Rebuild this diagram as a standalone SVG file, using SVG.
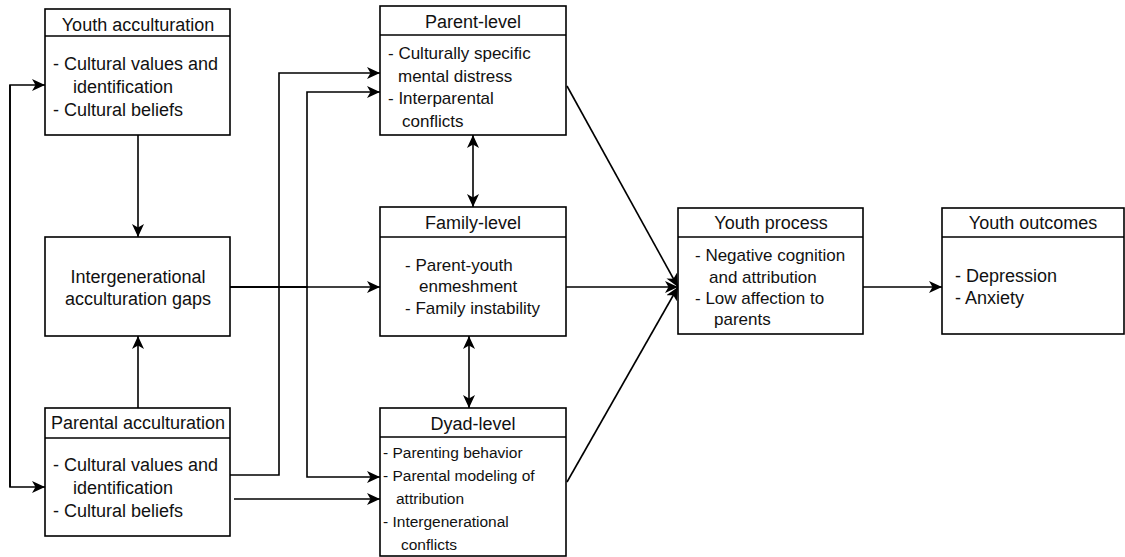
<svg xmlns="http://www.w3.org/2000/svg" width="1125" height="557" viewBox="0 0 1125 557">
<defs>
<marker id="ah" viewBox="0 0 13 12" refX="13" refY="6" markerWidth="13" markerHeight="12" markerUnits="userSpaceOnUse" orient="auto-start-reverse">
<path d="M0,0 L13,6 L0,12 L3.5,6 z" fill="#000"/>
</marker>
</defs>
<style>
.box{fill:#fff;stroke:#000;stroke-width:1.6}
.sep{stroke:#000;stroke-width:1.6}
.t{font-family:"Liberation Sans",Arial,sans-serif;fill:#111}
.h{font-size:18px;text-anchor:middle}
.b18{font-size:18px}
.b17{font-size:17px}
.b15{font-size:15.5px}
.c{text-anchor:middle}
.e{fill:none;stroke:#000;stroke-width:1.6}
</style>
<rect width="1125" height="557" fill="#fff"/>
<g id="connectors">
<path class="e" d="M10,487 L10,85 L45,85" marker-end="url(#ah)"/>
<path class="e" d="M10,85 L10,487 L45,487" marker-end="url(#ah)"/>
<path class="e" d="M138,135 L138,237" marker-end="url(#ah)"/>
<path class="e" d="M138,408 L138,336" marker-end="url(#ah)"/>
<path class="e" d="M230,287 L380,287" marker-end="url(#ah)"/>
<path class="e" d="M230,287 L307,287 L307,92 L380,92" marker-end="url(#ah)"/>
<path class="e" d="M230,287 L307,287 L307,477 L380,477" marker-end="url(#ah)"/>
<path class="e" d="M230,475 L279,475 L279,73 L380,73" marker-end="url(#ah)"/>
<path class="e" d="M234,499 L380,499" marker-end="url(#ah)"/>
<path class="e" d="M473,135 L473,207" marker-start="url(#ah)" marker-end="url(#ah)"/>
<path class="e" d="M469,336 L469,408" marker-start="url(#ah)" marker-end="url(#ah)"/>
<path class="e" d="M566,287 L678,287" marker-end="url(#ah)"/>
<path class="e" d="M567,86 L678,287" marker-end="url(#ah)"/>
<path class="e" d="M567,482 L678,287" marker-end="url(#ah)"/>
<path class="e" d="M863,287 L942,287" marker-end="url(#ah)"/>
</g>
<g id="youth-acculturation">
<rect class="box" x="45" y="9" width="185" height="126"/>
<line class="sep" x1="45" y1="36" x2="230" y2="36"/>
<text class="t h" x="138" y="31">Youth acculturation</text>
<text class="t b18" x="53" y="70">- Cultural values and</text>
<text class="t b18" x="73" y="93">identification</text>
<text class="t b18" x="53" y="116">- Cultural beliefs</text>
</g>
<g id="gaps">
<rect class="box" x="45" y="237" width="185" height="99"/>
<text class="t b18 c" x="138" y="283">Intergenerational</text>
<text class="t b18 c" x="138" y="305">acculturation gaps</text>
</g>
<g id="parental-acculturation">
<rect class="box" x="45" y="408" width="185" height="128"/>
<line class="sep" x1="45" y1="438" x2="230" y2="438"/>
<text class="t h" x="138" y="429">Parental acculturation</text>
<text class="t b18" x="53" y="471">- Cultural values and</text>
<text class="t b18" x="73" y="494">identification</text>
<text class="t b18" x="53" y="517">- Cultural beliefs</text>
</g>
<g id="parent-level">
<rect class="box" x="380" y="6" width="186" height="129"/>
<line class="sep" x1="380" y1="35" x2="566" y2="35"/>
<text class="t h" x="473" y="28">Parent-level</text>
<text class="t b17" x="388" y="59">- Culturally specific</text>
<text class="t b17" x="398" y="82">mental distress</text>
<text class="t b17" x="388" y="104">- Interparental</text>
<text class="t b17" x="402" y="127">conflicts</text>
</g>
<g id="family-level">
<rect class="box" x="380" y="207" width="186" height="129"/>
<line class="sep" x1="380" y1="237" x2="566" y2="237"/>
<text class="t h" x="473" y="229">Family-level</text>
<text class="t b17" x="405" y="271">- Parent-youth</text>
<text class="t b17" x="419" y="292">enmeshment</text>
<text class="t b17" x="405" y="314">- Family instability</text>
</g>
<g id="dyad-level">
<rect class="box" x="380" y="408" width="186" height="148"/>
<line class="sep" x1="380" y1="437" x2="566" y2="437"/>
<text class="t h" x="473" y="430">Dyad-level</text>
<text class="t b15" x="383" y="458">- Parenting behavior</text>
<text class="t b15" x="383" y="481">- Parental modeling of</text>
<text class="t b15" x="396" y="504">attribution</text>
<text class="t b15" x="383" y="527">- Intergenerational</text>
<text class="t b15" x="401" y="550">conflicts</text>
</g>
<g id="youth-process">
<rect class="box" x="678" y="208" width="185" height="126"/>
<line class="sep" x1="678" y1="237" x2="863" y2="237"/>
<text class="t h" x="771" y="229">Youth process</text>
<text class="t b17" x="695" y="261">- Negative cognition</text>
<text class="t b17" x="709" y="283">and attribution</text>
<text class="t b17" x="695" y="304">- Low affection to</text>
<text class="t b17" x="714" y="325">parents</text>
</g>
<g id="youth-outcomes">
<rect class="box" x="942" y="208" width="182" height="126"/>
<line class="sep" x1="942" y1="237" x2="1124" y2="237"/>
<text class="t h" x="1033" y="229">Youth outcomes</text>
<text class="t b18" x="955" y="282">- Depression</text>
<text class="t b18" x="955" y="304">- Anxiety</text>
</g>
</svg>
